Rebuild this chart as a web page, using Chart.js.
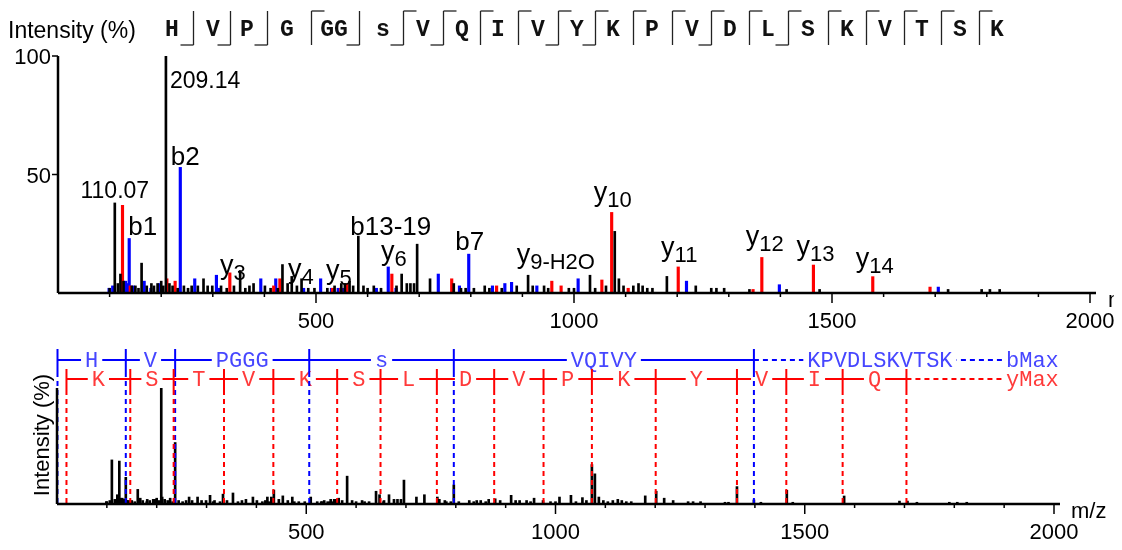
<!DOCTYPE html>
<html>
<head>
<meta charset="utf-8">
<title>Spectrum</title>
<script src="https://cdn.jsdelivr.net/npm/chart.js@4.4.1/dist/chart.umd.min.js"></script>
<style>
  html, body { margin: 0; padding: 0; background: #fff; }
  #wrap { position: relative; width: 1122px; height: 550px; overflow: hidden; }
  #top { position: absolute; left: 0; top: 0; }
  #bottom { position: absolute; left: 0; top: 340px; }
</style>
</head>
<body>
<div id="wrap">
  <canvas id="top" width="1114" height="340"></canvas>
  <canvas id="bottom" width="1122" height="210"></canvas>
</div>
<script>
// peptide, as shown in the header (GG kept as one block)
var sequence = ['H', 'V', 'P', 'G', 'GG', 's', 'V', 'Q', 'I', 'V', 'Y', 'K', 'P', 'V', 'D', 'L', 'S', 'K', 'V', 'T', 'S', 'K'];
// cleavage marks after each block: b = bottom-left hook, y = top-right hook
var bMarks = [1, 1, 1, 0, 1, 1, 1, 0, 0, 1, 1, 0, 0, 1, 0, 1, 0, 0, 0, 0, 0];
var yMarks = [0, 0, 0, 1, 0, 1, 1, 1, 1, 1, 1, 1, 1, 1, 1, 1, 1, 1, 1, 1, 1];

// unassigned peaks (m/z, % intensity)
var otherMz = [100, 110.07, 116, 121, 127, 143, 150, 156, 162, 172, 181, 186, 193, 200, 204, 209.14, 216, 222, 232, 244, 252, 259, 271, 282, 290, 299, 316, 327, 341, 353, 363, 371, 379, 401, 412, 426, 435, 445, 453, 463, 472, 485, 497, 522, 536, 549, 556, 565, 572, 582, 592, 600, 612, 626, 656, 666, 676, 683, 690, 696, 721, 767, 781, 790, 806, 827, 836, 860, 889, 911, 920, 942, 950, 990, 1000, 1031, 1041, 1062, 1079, 1087, 1096, 1115, 1125, 1133, 1142, 1152, 1180, 1236, 1266, 1276, 1291, 1340, 1412, 1476, 1725, 1790, 1806, 1825];
var otherInt = [2, 38, 4, 8, 5, 3, 3, 2, 12.6, 3, 4, 3, 4, 5, 3, 100, 4, 3, 2, 3, 2, 3, 3, 6, 3, 3, 3, 2, 3, 9.5, 2, 3, 4, 3, 2, 2, 12, 4, 7, 3, 6, 2, 2, 2, 3, 4, 4, 5, 3, 24, 3, 2, 3, 2, 3, 8, 4, 4, 4, 20.6, 6, 4, 2, 2, 2, 3, 2, 2, 3, 7.5, 3, 3, 2, 2, 2, 7.5, 2, 3, 26, 6, 3, 3, 4, 3, 2, 2, 7, 3, 2, 2, 2, 1.5, 1.5, 1.5, 1.5, 1.5, 1.5, 1.5];

// y-type fragment peaks
var yIonMz = [125, 140, 211, 227, 333, 418, 430, 532, 548, 560, 647, 763, 850, 957, 975, 1054, 1073, 1105, 1202, 1347, 1364, 1464, 1579, 1690];
var yIonInt = [37, 3, 6, 5, 8.5, 3, 6, 2, 2, 4, 8, 6, 3, 5, 3, 5.5, 34, 2, 11, 1.5, 15, 11.8, 6.9, 2.5];

// b-type fragment peaks
var bIonMz = [99, 106, 131, 134, 138, 146, 167, 180, 196, 237, 265, 307, 313, 393, 422, 476, 509, 530, 543, 553, 617, 640, 655, 737, 778, 796, 842, 866, 879, 928, 1008, 1218, 1398, 1706];
var bIonInt = [2, 3, 5, 4, 23, 3, 5, 2, 4, 53, 6, 7.5, 2, 6, 6, 2, 6, 2, 2, 2, 2, 11, 2, 8, 3, 16.4, 3, 4, 4.5, 3, 6, 5, 3.5, 2.5];

// annotated peaks
var peakLabels = ['110.07', '209.14', 'b1', 'b2', 'y3', 'y4', 'y5', 'b13-19', 'y6', 'b7', 'y9-H2O', 'y10', 'y11', 'y12', 'y13', 'y14'];
var peakLabelMz = [110.07, 209.14, 138, 237, 333, 430, 560, 582, 647, 796, 957, 1073, 1202, 1364, 1464, 1579];

// fragment ladders (m/z of each cleavage) and the residues between them
var bLadderMz = [1, 138, 237, 506, 796, 1398];
var bLadderRes = ['H', 'V', 'PGGG', 's', 'VQIVY'];
var bRest = 'KPVDLSKVTSK';
var yLadderMz = [19, 147, 234, 335, 434, 562, 649, 762, 877, 976, 1073, 1201, 1364, 1463, 1576, 1704];
var yLadderRes = ['K', 'S', 'T', 'V', 'K', 'S', 'L', 'D', 'V', 'P', 'K', 'Y', 'V', 'I', 'Q'];

var xTicks = [500, 1000, 1500, 2000];
var yTicks = [50, 100];

// ---- drawing setup ----
var SANS = '"Liberation Sans", Arial, sans-serif';
var MONO = '"Liberation Mono", "Courier New", monospace';
var seqX = [172, 213, 247, 287, 334, 383, 423, 462, 498, 538, 577, 613, 652, 692, 730, 768, 808, 847, 885, 922, 960, 997];
var labelPlace = {
  '110.07': ['c', 0, -5],
  '209.14': ['l', 4, 32],
  'b1': ['l', -1, -3],
  'b2': ['c', 5, -2],
  'y3': ['c', 3, 1],
  'y4': ['c', 21, -1],
  'y5': ['c', -8, -5],
  'b13-19': ['l', -8, -1],
  'y6': ['c', 2, -14],
  'b7': ['c', 1, -4],
  'y9-H2O': ['c', 4, -18],
  'y10': ['c', 1, -11],
  'y11': ['c', 1, -11],
  'y12': ['c', 3, -12],
  'y13': ['c', 2, -10],
  'y14': ['c', 2, -10]
};

function points(mz, val) {
  return mz.map(function (m, i) { return { x: m, y: val[i] }; });
}

function line(ctx, x1, y1, x2, y2) {
  ctx.beginPath();
  ctx.moveTo(x1, y1);
  ctx.lineTo(x2, y2);
  ctx.stroke();
}

function intensityAt(mz) {
  var lists = [[otherMz, otherInt], [yIonMz, yIonInt], [bIonMz, bIonInt]];
  for (var k = 0; k < lists.length; k++) {
    var i = lists[k][0].indexOf(mz);
    if (i >= 0) return lists[k][1][i];
  }
  return 0;
}

// x axis with long ticks at the labelled values and short ones every 100
function drawXAxis(chart, labelY, unitX, unitY) {
  var ctx = chart.ctx, xs = chart.scales.x, a = chart.chartArea;
  ctx.save();
  ctx.strokeStyle = '#000';
  ctx.lineWidth = 2.5;
  line(ctx, a.left, a.bottom, a.right + 6, a.bottom);
  ctx.lineWidth = 1.5;
  for (var v = 100; v <= 2000; v += 100) {
    var x = xs.getPixelForValue(v);
    var major = xTicks.indexOf(v) >= 0;
    line(ctx, x, a.bottom - 1, x, a.bottom + (major ? 10 : 4));
  }
  ctx.fillStyle = '#000';
  ctx.font = '22px ' + SANS;
  ctx.textAlign = 'center';
  ctx.textBaseline = 'middle';
  xTicks.forEach(function (v) {
    ctx.fillText(String(v), xs.getPixelForValue(v), labelY);
  });
  ctx.textAlign = 'left';
  ctx.fillText('m/z', unitX, unitY);
  ctx.restore();
}

var topAxes = {
  id: 'topAxes',
  afterDraw: function (chart) {
    var ctx = chart.ctx, ys = chart.scales.y, a = chart.chartArea;
    drawXAxis(chart, a.bottom + 29, 1108, a.bottom + 8);
    ctx.save();
    ctx.strokeStyle = '#000';
    ctx.lineWidth = 2.5;
    line(ctx, a.left, a.top, a.left, a.bottom);
    ctx.lineWidth = 1.5;
    ctx.fillStyle = '#000';
    ctx.font = '22px ' + SANS;
    ctx.textAlign = 'right';
    ctx.textBaseline = 'middle';
    yTicks.forEach(function (v) {
      var y = ys.getPixelForValue(v);
      line(ctx, a.left - 6, y, a.left, y);
      ctx.fillText(String(v), a.left - 7, y + 2);
    });
    ctx.textAlign = 'left';
    ctx.font = '23px ' + SANS;
    ctx.fillText('Intensity (%)', 8, 32);
    ctx.restore();
  }
};

var header = {
  id: 'header',
  afterDraw: function (chart) {
    var ctx = chart.ctx;
    ctx.save();
    ctx.fillStyle = '#111';
    ctx.font = 'bold 23px ' + MONO;
    ctx.textAlign = 'center';
    ctx.textBaseline = 'alphabetic';
    sequence.forEach(function (s, i) { ctx.fillText(s, seqX[i], 36); });
    ctx.strokeStyle = '#222';
    ctx.lineWidth = 1.3;
    for (var i = 0; i < sequence.length - 1; i++) {
      var bx = Math.round((seqX[i] + seqX[i + 1]) / 2) + 0.5;
      line(ctx, bx, 11, bx, 45);
      if (yMarks[i]) line(ctx, bx, 11, bx + 13, 11);
      if (bMarks[i]) line(ctx, bx - 13, 45, bx, 45);
    }
    ctx.restore();
  }
};

var peakText = {
  id: 'peakText',
  afterDatasetsDraw: function (chart) {
    var ctx = chart.ctx, xs = chart.scales.x, ys = chart.scales.y;
    ctx.save();
    ctx.fillStyle = '#000';
    ctx.textAlign = 'left';
    ctx.textBaseline = 'alphabetic';
    peakLabels.forEach(function (txt, i) {
      var mz = peakLabelMz[i];
      var px = xs.getPixelForValue(mz);
      var top = ys.getPixelForValue(intensityAt(mz));
      var p = labelPlace[txt];
      var isY = txt.charAt(0) === 'y';
      var main = isY ? 'y' : txt;
      var sub = isY ? txt.slice(1) : '';
      var mainFont = /^[0-9]/.test(txt) ? '23px ' + SANS : (isY ? '27px ' : '26px ') + SANS;
      var subFont = '22px ' + SANS;
      ctx.font = mainFont;
      var w1 = ctx.measureText(main).width;
      ctx.font = subFont;
      var w2 = sub ? ctx.measureText(sub).width : 0;
      var left = p[0] === 'c' ? px + p[1] - (w1 + w2) / 2 : px + p[1];
      var base = top + p[2];
      ctx.font = mainFont;
      ctx.fillText(main, left, base);
      if (sub) {
        ctx.font = subFont;
        ctx.fillText(sub, left + w1, base + 6);
      }
    });
    ctx.restore();
  }
};

// ---- ladder above the lower spectrum ----
var END_X = 1006;
var rows = [
  { mz: bLadderMz, res: bLadderRes, rest: bRest, end: 'bMax', y: 20, up: 11, down: 12, line: '#0000ff', text: '#4646ff' },
  { mz: yLadderMz, res: yLadderRes, rest: '', end: 'yMax', y: 39, up: 10, down: 11, line: '#ff0000', text: '#ff3a3a' }
];

function onLine(ctx, txt, cx, y, color) {
  var w = ctx.measureText(txt).width;
  ctx.fillStyle = '#fff';
  ctx.fillRect(cx - w / 2 - 4, y - 9, w + 8, 18);
  ctx.fillStyle = color;
  ctx.fillText(txt, cx, y + 1);
}

var ladder = {
  id: 'ladder',
  afterDatasetsDraw: function (chart) {
    var ctx = chart.ctx, xs = chart.scales.x, a = chart.chartArea;
    ctx.save();
    ctx.font = '22px ' + MONO;
    ctx.textBaseline = 'middle';
    rows.forEach(function (r) {
      var xp = r.mz.map(function (m) { return xs.getPixelForValue(m); });
      var last = xp[xp.length - 1];
      ctx.strokeStyle = r.line;
      ctx.lineWidth = 2;
      line(ctx, xp[0], r.y, last, r.y);
      ctx.setLineDash([5, 4]);
      line(ctx, last, r.y, END_X - 4, r.y);
      ctx.setLineDash([]);
      ctx.textAlign = 'center';
      for (var i = 0; i < r.res.length; i++) {
        onLine(ctx, r.res[i], (xp[i] + xp[i + 1]) / 2, r.y, r.text);
      }
      if (r.rest) onLine(ctx, r.rest, (last + END_X) / 2, r.y, r.text);
      ctx.textAlign = 'left';
      ctx.fillStyle = '#fff';
      ctx.fillRect(END_X - 2, r.y - 9, ctx.measureText(r.end).width + 4, 18);
      ctx.fillStyle = r.text;
      ctx.fillText(r.end, END_X, r.y + 1);
    });
    rows.forEach(function (r) {
      ctx.strokeStyle = r.line;
      ctx.lineWidth = 2;
      r.mz.forEach(function (m) {
        var x = xs.getPixelForValue(m);
        ctx.setLineDash([]);
        line(ctx, x, r.y - r.up, x, r.y + r.down);
        ctx.setLineDash([5, 4]);
        line(ctx, x, r.y + r.down, x, a.bottom);
      });
    });
    ctx.restore();
  }
};

var bottomAxes = {
  id: 'bottomAxes',
  afterDraw: function (chart) {
    var ctx = chart.ctx, a = chart.chartArea;
    drawXAxis(chart, a.bottom + 29, 1071, a.bottom + 8);
    ctx.save();
    ctx.strokeStyle = '#000';
    ctx.lineWidth = 2.5;
    line(ctx, a.left, a.top, a.left, a.bottom);
    ctx.fillStyle = '#000';
    ctx.font = '22px ' + SANS;
    ctx.textAlign = 'center';
    ctx.textBaseline = 'middle';
    ctx.translate(43, 95);
    ctx.rotate(-Math.PI / 2);
    ctx.fillText('Intensity (%)', 0, 0);
    ctx.restore();
  }
};

function baseOptions(pad) {
  return {
    responsive: false,
    animation: false,
    layout: { padding: pad },
    datasets: { bar: { grouped: false } },
    plugins: { legend: { display: false }, tooltip: { enabled: false } },
    scales: {
      x: { type: 'linear', min: 0, max: 2000, display: false, offset: false },
      y: { type: 'linear', min: 0, max: 100, display: false }
    }
  };
}

new Chart(document.getElementById('top'), {
  type: 'bar',
  data: {
    datasets: [
      { data: points(otherMz, otherInt), backgroundColor: '#000', barThickness: 2 },
      { data: points(yIonMz, yIonInt), backgroundColor: '#ff0000', barThickness: 2.5 },
      { data: points(bIonMz, bIonInt), backgroundColor: '#0000ff', barThickness: 2.5 }
    ]
  },
  options: baseOptions({ left: 58, right: 24, top: 56, bottom: 47 }),
  plugins: [topAxes, header, peakText]
});

new Chart(document.getElementById('bottom'), {
  type: 'bar',
  data: {
    datasets: [
      { data: points(otherMz.concat(yIonMz, bIonMz), otherInt.concat(yIonInt, bIonInt)), backgroundColor: '#000', barThickness: 2 }
    ]
  },
  options: baseOptions({ left: 57, right: 68, top: 48, bottom: 46 }),
  plugins: [ladder, bottomAxes]
});
</script>
</body>
</html>
